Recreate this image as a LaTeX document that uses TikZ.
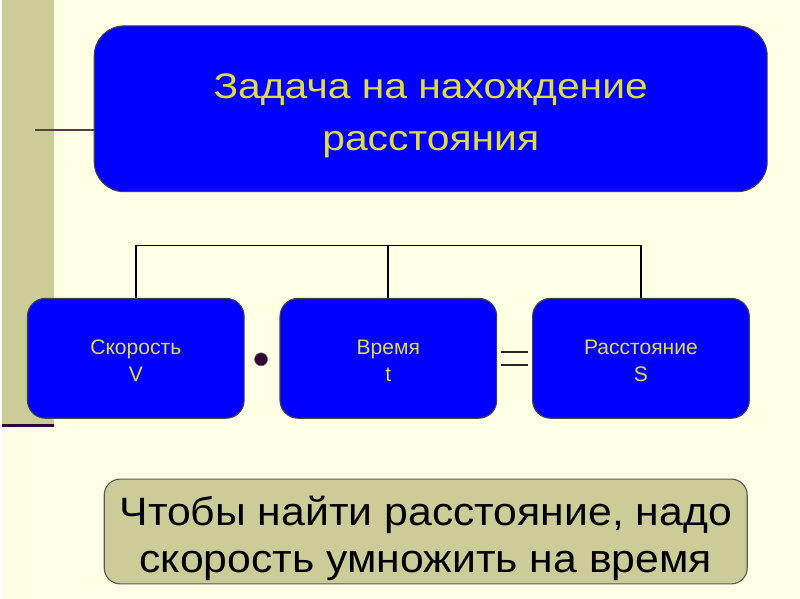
\documentclass[tikz,border=0pt]{standalone}
\usepackage{fontspec}
\setmainfont{Liberation Sans}
\newfontfamily\zdtitlefont[FakeStretch=1.15]{Liberation Sans}
\newfontfamily\zdnotefont[FakeStretch=1.08]{Liberation Sans}
\usepackage{tikz}
\usetikzlibrary{positioning}
\definecolor{zdbg}{HTML}{FFFFE5}
\definecolor{zdkhaki}{HTML}{CCCC99}
\definecolor{zdtext}{HTML}{DEDE40}
\definecolor{zdplum}{HTML}{330033}
\definecolor{zdtick}{HTML}{5A4040}
\tikzset{
  zd_main/.style={
    draw=black!75, rectangle, rounded corners=0.75cm, fill=blue, thick,
    minimum width=16.85cm, minimum height=4.15cm, inner sep=0pt, outer sep=0pt
  },
  zd_box/.style={
    draw=black!75, rectangle, rounded corners=0.45cm, fill=blue, thick,
    minimum width=5.425cm, minimum height=3cm, inner sep=0pt, outer sep=0pt
  },
  zd_note/.style={
    draw=black!65, rectangle, rounded corners=0.4cm, fill=zdkhaki, thick,
    minimum width=16.1cm, minimum height=2.625cm, inner sep=0pt, outer sep=0pt
  },
  zd_title/.style={text=zdtext, align=center, yshift=-0.175cm,
    font=\zdtitlefont\fontsize{25.3}{37.7}\selectfont},
  zd_small/.style={text=zdtext, align=center, yshift=-0.06cm,
    font=\fontsize{15}{19.7}\selectfont},
  zd_rule/.style={text=black, align=center, yshift=-0.175cm,
    font=\zdnotefont\fontsize{28.2}{34.1}\selectfont},
  zd_line/.style={draw=black, line width=1.4pt},
}

\begin{document}
\begin{tikzpicture}[x=0.025cm, y=-0.025cm]

% background and left band
\fill[zdbg] (0,0) rectangle (800,600);
\fill[zdkhaki] (0,0) rectangle (53,425);
\draw[zdplum, line width=2.2pt] (0,426) -- (53,426);

\node[zd_main, label={[zd_title]center:{Задача на нахождение\\расстояния}}] (task) at (430,109) {};
\node[zd_box, label={[zd_small]center:{Скорость\\V}}] (spd) at (134.5,359) {};
\node[zd_box, right=0.9cm of spd, label={[zd_small]center:{Время\\t}}] (time) {};
\node[zd_box, right=0.9cm of time, label={[zd_small]center:{Расстояние\\S}}] (dist) {};
\node[zd_note, label={[zd_rule]center:{Чтобы найти расстояние, надо\\скорость умножить на время}}] (rule) at (425,532.5) {};

% tick on the band
\coordinate (tick) at (34,130);
\draw[zdtick, line width=1.4pt] (tick) -- (tick -| task.west);

% bracket over the three boxes
\draw[zd_line] (spd.north) -- ++(0,-53) coordinate (bus) -| (dist.north);
\draw[zd_line] (time.north) -- (time.north |- bus);

% product dot and equals sign
\node[circle, fill=zdplum, draw=black!60, minimum size=0.325cm, inner sep=0pt] (dot) at (260,360) {};
\coordinate (eq) at (513.5,359.5);
\draw[black!85, line width=1.6pt] ([shift={(-13.5,-6.5)}]eq) -- ++(27,0);
\draw[black!85, line width=1.6pt] ([shift={(-13.5,6.5)}]eq) -- ++(27,0);

\end{tikzpicture}
\end{document}
